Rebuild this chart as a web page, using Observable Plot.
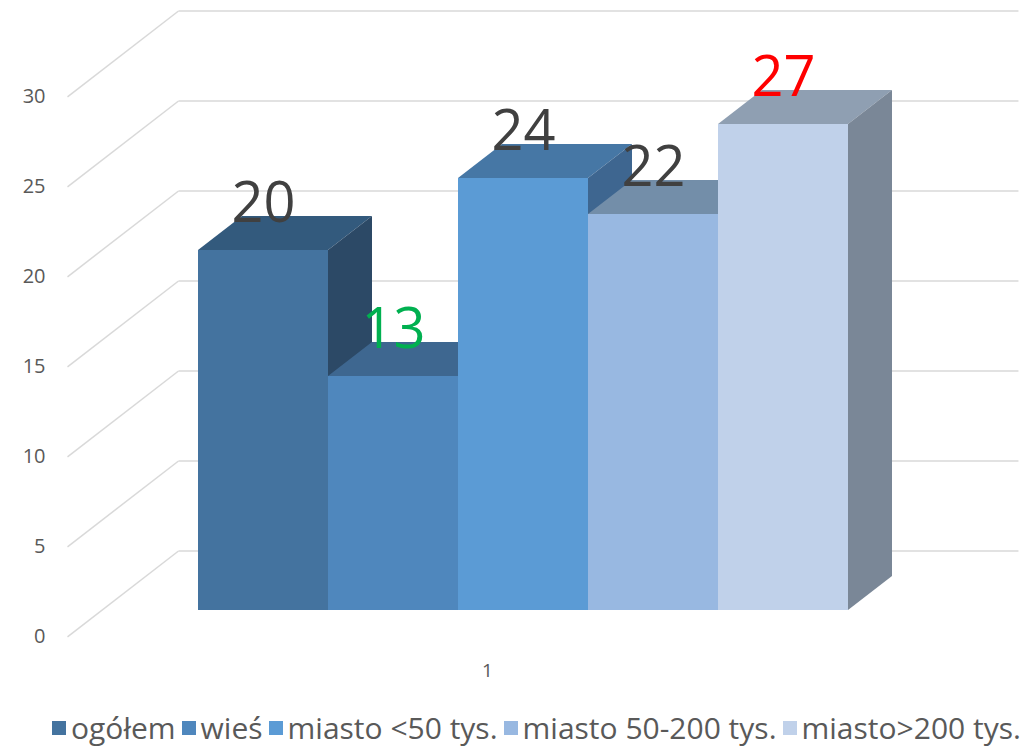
<!DOCTYPE html>
<html>
<head>
<meta charset="utf-8">
<script src="https://cdn.jsdelivr.net/npm/d3@7"></script>
<script src="https://cdn.jsdelivr.net/npm/@observablehq/plot@0.6"></script>
<style>
  html, body { margin: 0; padding: 0; background: #fff; }
  body { width: 1027px; height: 746px; position: relative; overflow: hidden; font-family: "Open Sans", sans-serif; }
  #legend { position: absolute; left: 52px; top: 707px; display: flex; align-items: center; color: #595959; font-size: 30px; white-space: nowrap; }
  #legend .item { display: flex; align-items: center; margin-right: 6px; }
  #legend .sw { width: 14px; height: 14px; margin-right: 5px; }
</style>
</head>
<body>
<div id="chart"></div>
<div id="legend"></div>
<script>
// ---- data ----
const categories = ["ogółem", "wieś", "miasto <50 tys.", "miasto 50-200 tys.", "miasto>200 tys."];
const values = [20, 13, 24, 22, 27];
const groupLabels = ["1"];
const yTicks = [0, 5, 10, 15, 20, 25, 30];

// ---- styles ----
const frontColors = ["#44739f", "#4f87bd", "#5b9bd5", "#98b8e1", "#c0d1ea"];
const topColors   = ["#335a7d", "#3e6790", "#4677a5", "#738ea9", "#8f9fb2"];
const sideColors  = ["#2c4966", "#35587a", "#3e6690", "#64798f", "#7a8797"];
const labelColors = ["#404040", "#00b050", "#404040", "#404040", "#ff0000"];

// oblique projection: one depth unit (bar depth) shifts by KX x-units, KY y-units
const KX = 44 / 130, KY = 34 / 18;
const WALL_Z = 1.75, FRONT_Z = -0.773;
const LEFT_U = -0.746, RIGHT_U = 5.715;
const proj = (u, v, z) => ({x: u + z * KX, y: v + z * KY});

// faces in painter's order
const faces = [];
values.forEach((v, i) => {
  const f = i * 3;
  faces.push({id: f, fill: frontColors[i], x1: i, y1: 0, x2: i, y2: v});
  faces.push({id: f, fill: frontColors[i], x1: i + 1, y1: 0, x2: i + 1, y2: v});
  faces.push({id: f + 1, fill: topColors[i], x1: i, y1: v, x2: i + KX, y2: v + KY});
  faces.push({id: f + 1, fill: topColors[i], x1: i + 1, y1: v, x2: i + 1 + KX, y2: v + KY});
  faces.push({id: f + 2, fill: sideColors[i], x1: i + 1, y1: 0, x2: i + 1 + KX, y2: KY});
  faces.push({id: f + 2, fill: sideColors[i], x1: i + 1, y1: v, x2: i + 1 + KX, y2: v + KY});
});

const diag = yTicks.map(t => {
  const a = proj(LEFT_U, t, FRONT_Z), b = proj(LEFT_U, t, WALL_Z);
  return {x1: a.x, y1: a.y, x2: b.x, y2: b.y};
});
const back = yTicks.map(t => {
  const a = proj(LEFT_U, t, WALL_Z), b = proj(RIGHT_U, t, WALL_Z);
  return {x1: a.x, y1: a.y, x2: b.x, y2: b.y};
});
const tickLabels = yTicks.map(t => ({...proj(LEFT_U, t, FRONT_Z), label: String(t)}));
const groupPos = groupLabels.map(g => ({...proj((LEFT_U + RIGHT_U) / 2, 0, FRONT_Z), label: g}));
const dataLabels = values.map((v, i) => ({x: i + 0.5, y: v, label: String(v), color: labelColors[i]}));

const chart = Plot.plot({
  width: 1027,
  height: 705,
  margin: 0,
  x: {domain: [0, 5], range: [198, 848], axis: null},
  y: {domain: [0, 30], range: [610, 70], axis: null},
  color: {type: "identity"},
  style: {fontFamily: "Open Sans, sans-serif", background: "#fff"},
  marks: [
    Plot.link(diag, {x1: "x1", y1: "y1", x2: "x2", y2: "y2", stroke: "#d9d9d9", strokeWidth: 1.5}),
    Plot.link(back, {x1: "x1", y1: "y1", x2: "x2", y2: "y2", stroke: "#d9d9d9", strokeWidth: 1.5}),
    Plot.area(faces, {x1: "x1", y1: "y1", x2: "x2", y2: "y2", z: "id", fill: "fill", curve: "linear"}),
    Plot.text(tickLabels, {x: "x", y: "y", text: "label", textAnchor: "end", dx: -22, fontSize: 20, fill: "#595959"}),
    Plot.text(groupPos, {x: "x", y: "y", text: "label", dy: 34, fontSize: 19, fill: "#595959"}),
    Plot.text(dataLabels, {x: "x", y: "y", text: "label", dy: -29, lineAnchor: "bottom", fontSize: 56, fill: "color"})
  ]
});
document.getElementById("chart").appendChild(chart);

const legend = document.getElementById("legend");
categories.forEach((c, i) => {
  const item = document.createElement("div");
  item.className = "item";
  const sw = document.createElement("div");
  sw.className = "sw";
  sw.style.background = frontColors[i];
  const tx = document.createElement("span");
  tx.textContent = c;
  item.appendChild(sw);
  item.appendChild(tx);
  legend.appendChild(item);
});
</script>
</body>
</html>
